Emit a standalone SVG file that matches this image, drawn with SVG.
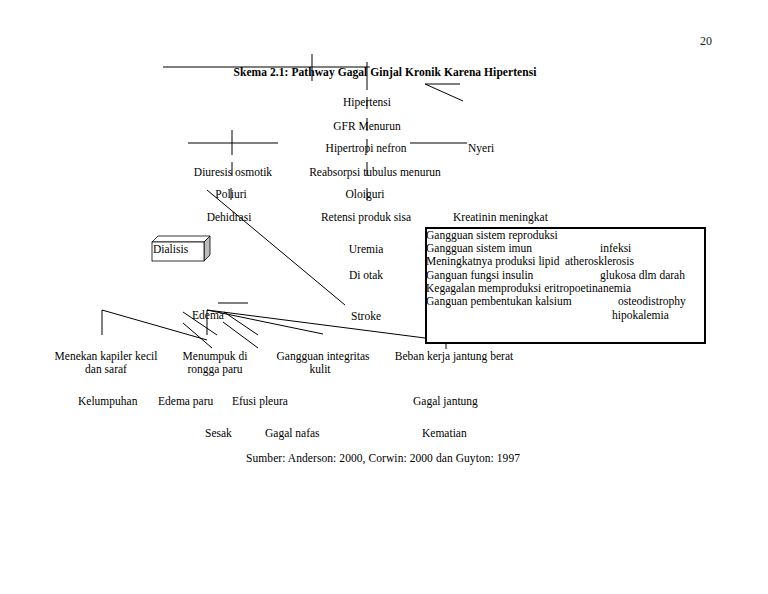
<svg xmlns="http://www.w3.org/2000/svg" width="768" height="594" viewBox="0 0 768 594">
<style>
text{font-family:"Liberation Serif","Times New Roman",serif;font-size:11.5px;fill:#000}
.c{text-anchor:middle}
.t{font-weight:bold}
.ln{stroke:#000;stroke-width:1;fill:none}
</style>
<rect width="768" height="594" fill="#fff"/>
<g id="connectors" class="ln">
<line x1="163" y1="67" x2="370" y2="67"/>
<line x1="312" y1="54" x2="312" y2="81"/>
<line x1="367" y1="62" x2="367" y2="90"/>
<line x1="367" y1="97" x2="367" y2="109"/>
<line x1="367" y1="118" x2="367" y2="131"/>
<line x1="367" y1="139" x2="367" y2="153"/>
<line x1="367" y1="162" x2="367" y2="176"/>
<line x1="367" y1="188" x2="367" y2="200"/>
<line x1="425" y1="84" x2="460" y2="84"/>
<line x1="425" y1="84" x2="463" y2="101"/>
<line x1="410" y1="143" x2="467" y2="143"/>
<line x1="188" y1="143" x2="278" y2="143"/>
<line x1="232" y1="130" x2="232" y2="155"/>
<line x1="232" y1="162" x2="232" y2="176"/>
<line x1="231" y1="188" x2="231" y2="200"/>
<line x1="207" y1="190" x2="345" y2="305"/>
<line x1="218" y1="303" x2="248" y2="303"/>
<line x1="207" y1="310" x2="207" y2="335"/>
<line x1="102" y1="310" x2="102" y2="335"/>
<line x1="102" y1="310" x2="207" y2="340"/>
<line x1="183" y1="312" x2="217" y2="335"/>
<line x1="183" y1="323" x2="212" y2="348"/>
<line x1="223" y1="322" x2="258" y2="348"/>
<line x1="224" y1="312" x2="258" y2="335"/>
<line x1="207" y1="310" x2="425" y2="338"/>
<line x1="207" y1="310" x2="323" y2="334"/>
<line x1="446" y1="343" x2="446" y2="349"/>
</g>
<g id="page"><text x="700" y="45" style="font-size:12px;fill:#222">20</text></g>
<g id="title"><text class="c t" x="385" y="76" textLength="303">Skema 2.1: Pathway Gagal Ginjal Kronik Karena Hipertensi</text></g>
<g id="hipertensi"><text class="c" x="367" y="106">Hipertensi</text></g>
<g id="gfr"><text class="c" x="367" y="130">GFR Menurun</text></g>
<g id="hipertropi"><text class="c" x="366" y="152">Hipertropi nefron</text></g>
<g id="nyeri"><text x="468" y="152">Nyeri</text></g>
<g id="diuresis"><text class="c" x="233" y="176">Diuresis osmotik</text></g>
<g id="reabsorpsi"><text class="c" x="375" y="176">Reabsorpsi tubulus menurun</text></g>
<g id="poliuri"><text class="c" x="231" y="198">Poliuri</text></g>
<g id="oloiguri"><text class="c" x="365" y="198">Oloiguri</text></g>
<g id="dehidrasi"><text class="c" x="229" y="221">Dehidrasi</text></g>
<g id="retensi"><text class="c" x="366" y="221">Retensi produk sisa</text></g>
<g id="kreatinin"><text x="453" y="221">Kreatinin meningkat</text></g>
<g id="dialisis">
<polygon points="152,242 158,236 210,236 204,242" fill="#fff" stroke="#000" stroke-width="0.8"/>
<polygon points="204,242 210,236 210,255 204,261" fill="#bbb" stroke="#000" stroke-width="0.8"/>
<rect x="152" y="242" width="52" height="19" fill="#fff" stroke="#000" stroke-width="0.8"/>
<text x="153" y="253">Dialisis</text>
</g>
<g id="uremia"><text class="c" x="366" y="253">Uremia</text></g>
<g id="diotak"><text class="c" x="366" y="279">Di otak</text></g>
<g id="stroke"><text x="351" y="320">Stroke</text></g>
<g id="edema"><text x="192" y="319">Edema</text></g>
<g id="box">
<rect x="426" y="228" width="279" height="115" fill="none" stroke="#000" stroke-width="2"/>
<text x="426" y="239">Gangguan sistem reproduksi</text>
<text x="426" y="252">Gangguan sistem imun</text>
<text x="600" y="252">infeksi</text>
<text x="426" y="265">Meningkatnya produksi lipid</text>
<text x="565" y="265">atherosklerosis</text>
<text x="426" y="279">Ganguan fungsi insulin</text>
<text x="600" y="279">glukosa dlm darah</text>
<text x="426" y="292">Kegagalan memproduksi eritropoetinanemia</text>
<text x="426" y="305">Ganguan pembentukan kalsium</text>
<text x="618" y="305">osteodistrophy</text>
<text x="612" y="319">hipokalemia</text>
</g>
<g id="menekan"><text class="c" x="106" y="360">Menekan kapiler kecil</text><text class="c" x="106" y="373">dan saraf</text></g>
<g id="menumpuk"><text class="c" x="215" y="360">Menumpuk di</text><text class="c" x="215" y="373">rongga paru</text></g>
<g id="integritas"><text class="c" x="323" y="360">Gangguan integritas</text><text class="c" x="320" y="373">kulit</text></g>
<g id="beban"><text class="c" x="454" y="360">Beban kerja jantung berat</text></g>
<g id="kelumpuhan"><text x="78" y="405">Kelumpuhan</text></g>
<g id="edemaparu"><text x="158" y="405">Edema paru</text></g>
<g id="efusi"><text x="232" y="405">Efusi pleura</text></g>
<g id="gagaljantung"><text x="413" y="405">Gagal jantung</text></g>
<g id="sesak"><text x="205" y="437">Sesak</text></g>
<g id="gagalnafas"><text x="265" y="437">Gagal nafas</text></g>
<g id="kematian"><text x="422" y="437">Kematian</text></g>
<g id="sumber"><text x="246" y="462" textLength="274">Sumber: Anderson: 2000, Corwin: 2000 dan Guyton: 1997</text></g>
</svg>
